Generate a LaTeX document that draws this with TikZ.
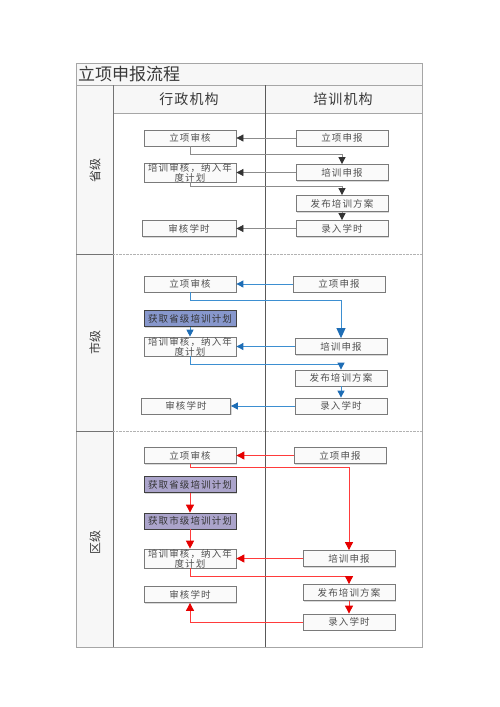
\documentclass[tikz,border=0pt]{standalone}
\usepackage{fontspec}
\setmainfont{Noto Sans CJK SC}
\usetikzlibrary{arrows.meta, shadows}

\definecolor{linegray}{HTML}{8C8C8C}
\definecolor{headgray}{HTML}{333333}
\definecolor{lineblue}{HTML}{3D8FD1}
\definecolor{headblue}{HTML}{1E6DB5}
\definecolor{linered}{HTML}{FF3B3B}
\definecolor{headred}{HTML}{E60000}
\definecolor{planblue}{HTML}{8797CC}
\definecolor{planpurple}{HTML}{ABA4CB}
\definecolor{boxedge}{HTML}{7A7A7A}
\definecolor{framegray}{HTML}{A6A6A6}
\definecolor{textgray}{HTML}{3A3A3A}
\definecolor{boxtext}{HTML}{505050}

\begin{document}
\begin{tikzpicture}[x = 1pt, y = -1pt, line join = miter,
    every node/.style = {text = textgray, font = \fontsize{10}{9}\selectfont, inner sep = 0pt},
    box/.style = {draw = boxedge, fill = gray!4, line width = .8pt, minimum width = 92pt, minimum height = 16pt, align = center,
        text = boxtext, font = \fontsize{9.5}{9}\selectfont\addfontfeature{LetterSpace=12},
        drop shadow = {shadow xshift = 1pt, shadow yshift = -1pt, opacity = .25, fill = black!60}},
    plan/.style = {box, draw = black!75, text = black!80},
    gline/.style = {draw = linegray, line width = .8pt, -{Triangle[length = 7pt, width = 7pt, color = headgray]}},
    bline/.style = {draw = lineblue, line width = .9pt, -{Triangle[length = 7pt, width = 7pt, color = headblue]}},
    rline/.style = {draw = linered, line width = .9pt, -{Triangle[length = 8pt, width = 8pt, color = headred]}}]
    \useasboundingbox (0, 0) rectangle (500, 707);

    % frame of the swimlanes
    \fill[gray!6] (76, 63) rectangle (422, 85);
    \fill[gray!6] (113, 85) rectangle (422, 113);
    \fill[gray!6] (76, 85) rectangle (113, 647);
    \draw[framegray, line width = .8pt] (76, 63) rectangle (422, 647);
    \draw[framegray] (76, 85) -- (422, 85);
    \draw[framegray] (113, 113) -- (422, 113);
    \draw[black!55, line width = .9pt] (113, 85) -- (113, 647);
    \draw[black!65, line width = .8pt] (265, 85) -- (265, 647);
    \foreach \y in {254, 431} {
        \draw[black!55] (76, \y) -- (113, \y);
        \draw[gray!60, densely dotted] (113, \y) -- (422, \y);
    }

    \node[anchor = west, font = \fontsize{17}{17}\selectfont] (title) at (78, 74) {立项申报流程};
    \node[font = \fontsize{14}{14}\selectfont\addfontfeature{LetterSpace=8}] (hA) at (189, 99) {行政机构};
    \node[font = \fontsize{14}{14}\selectfont\addfontfeature{LetterSpace=8}] (hB) at (343, 99) {培训机构};
    \node[rotate = 90, font = \fontsize{12}{12}\selectfont] (lane1) at (95, 170) {省级};
    \node[rotate = 90, font = \fontsize{12}{12}\selectfont] (lane2) at (95, 342) {市级};
    \node[rotate = 90, font = \fontsize{12}{12}\selectfont] (lane3) at (95, 542) {区级};

    % 省级
    \node[box] (pA1) at (190, 138)   {立项审核};
    \node[box] (pB1) at (342, 138)   {立项申报};
    \node[box] (pA2) at (190, 172.5) {培训审核，纳入年\\度计划};
    \node[box] (pB2) at (342, 172.5) {培训申报};
    \node[box] (pB3) at (342, 203.5) {发布培训方案};
    \node[box] (pB4) at (342, 228.5) {录入学时};
    \node[box, minimum width = 94pt] (pA3) at (189, 228.5) {审核学时};
    \draw[gline] (pB1) -- (pA1);
    \draw[gline] (pA1.south) -- ++(0, 8) -| (pB2.north);
    \draw[gline] (pB2) -- (pA2);
    \draw[gline] (pA2.south) -- ++(0, 4) -| (pB3.north);
    \draw[gline] (pB3) -- (pB4);
    \draw[gline] (pB4) -- (pA3);

    % 市级
    \node[box] (cA1) at (190, 284)   {立项审核};
    \node[box] (cB1) at (339, 284)   {立项申报};
    \node[plan, fill = planblue] (cA0) at (190, 318.5) {获取省级培训计划};
    \node[box] (cA2) at (190, 346.5) {培训审核，纳入年\\度计划};
    \node[box] (cB2) at (341, 346.5) {培训申报};
    \node[box] (cB3) at (341, 378)   {发布培训方案};
    \node[box] (cB4) at (341, 406)   {录入学时};
    \node[box, minimum width = 89pt] (cA3) at (186, 406) {审核学时};
    \draw[bline] (cB1) -- (cA1);
    \draw[bline, -{Triangle[length = 10pt, width = 9pt, color = headblue]}] (cA1.south) -- ++(0, 8) -| (cB2.north);
    \draw[bline] (cA0) -- (cA2);
    \draw[bline] (cB2) -- (cA2);
    \draw[bline] (cA2.south) -- ++(0, 8) -| (cB3.north);
    \draw[bline] (cB3) -- (cB4);
    \draw[bline] (cB4) -- (cA3);

    % 区级
    \node[box] (dA1) at (190, 455.5) {立项审核};
    \node[box] (dB1) at (340, 455.5) {立项申报};
    \node[plan, fill = planpurple] (dA0) at (190, 484.5) {获取省级培训计划};
    \node[plan, fill = planpurple] (dAm) at (190, 521)   {获取市级培训计划};
    \node[box] (dA2) at (190, 558.5) {培训审核，纳入年\\度计划};
    \node[box] (dB2) at (349, 558.5) {培训申报};
    \node[box] (dB3) at (349, 592.5) {发布培训方案};
    \node[box] (dB4) at (349, 622)   {录入学时};
    \node[box] (dA3) at (190, 594.5) {审核学时};
    \draw[rline] (dB1) -- (dA1);
    \draw[rline] (dA1.south) -- ++(0, 4) -| (dB2.north);
    \draw[rline] (dA0) -- (dAm);
    \draw[rline] (dAm) -- (dA2);
    \draw[rline] (dB2) -- (dA2);
    \draw[rline] (dA2.south) -- ++(0, 8) -| (dB3.north);
    \draw[rline] (dB3) -- (dB4);
    \draw[rline] (dB4) -| (dA3.south);
\end{tikzpicture}
\end{document}
